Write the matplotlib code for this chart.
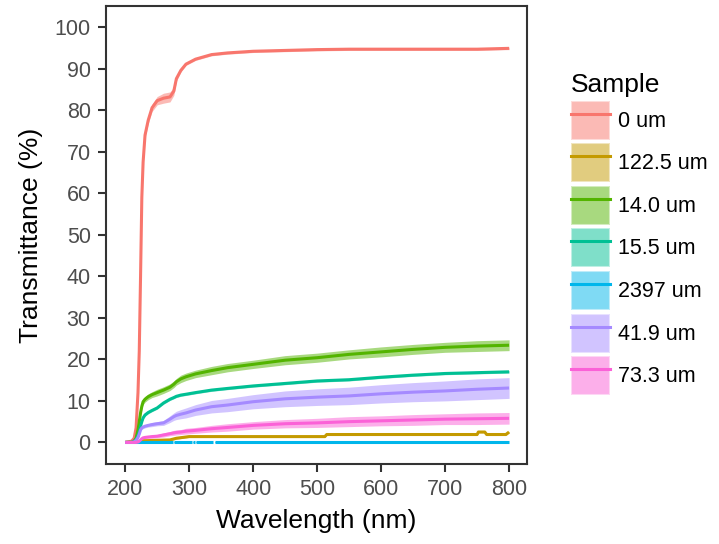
import matplotlib
matplotlib.use("Agg")
import matplotlib.pyplot as plt
import numpy as np
from matplotlib.patches import Patch
from matplotlib.lines import Line2D
from matplotlib.legend_handler import HandlerTuple

plt.rcParams["font.family"] = ["Liberation Sans", "DejaVu Sans"]

# ── data: mean transmittance (%) and spread per sample ───────────────────────
wavelength = [200, 210, 214, 217, 220, 222, 224, 226, 228, 231, 236, 242, 250,
              260, 270, 276, 280, 287, 295, 310, 335, 360, 400, 450, 500, 550,
              600, 650, 700, 750, 800]

samples = ["0 um", "122.5 um", "14.0 um", "15.5 um", "2397 um", "41.9 um", "73.3 um"]

t_0um = [0, 0.3, 1.0, 3.5, 12, 22, 40, 59, 67.5, 74, 77.6, 80.6, 82.3,
         82.9, 83.2, 84.6, 87.6, 89.6, 91.1, 92.3, 93.4, 93.8, 94.2, 94.4, 94.6, 94.7,
         94.7, 94.7, 94.7, 94.7, 94.9]
t_14um = [0, 0, 0.3, 1.0, 3.0, 5.0, 7.1, 8.7, 9.8, 10.4, 11.0, 11.5, 12.0,
          12.6, 13.3, 14.0, 14.6, 15.3, 15.8, 16.5, 17.3, 18.0, 18.8, 19.8, 20.4, 21.2,
          21.8, 22.4, 22.9, 23.2, 23.4]
t_15um = [0, 0, 0.2, 0.7, 1.6, 2.6, 3.9, 5.0, 5.9, 6.6, 7.2, 7.7, 8.3,
          9.5, 10.4, 10.8, 11.1, 11.4, 11.6, 12.0, 12.6, 13.0, 13.6, 14.2, 14.8, 15.1,
          15.7, 16.2, 16.6, 16.8, 17.0]
t_41um = [0, 0, 0.1, 0.5, 1.2, 2.0, 3.0, 3.5, 3.7, 3.9, 4.1, 4.3, 4.5,
          4.7, 5.6, 6.2, 6.5, 6.8, 7.1, 7.8, 8.6, 9.0, 9.8, 10.5, 10.9, 11.2,
          11.7, 12.1, 12.4, 12.8, 13.1]
t_73um = [0, 0, 0, 0, 0.1, 0.3, 0.6, 0.9, 1.1, 1.2, 1.3, 1.4, 1.5,
          1.8, 2.1, 2.3, 2.4, 2.5, 2.7, 2.9, 3.3, 3.6, 4.1, 4.5, 4.7, 5.0,
          5.2, 5.4, 5.6, 5.7, 5.8]

sd_0um = [0, 0.1, 0.2, 0.3, 0.3, 0.3, 0.3, 0.4, 0.6, 0.8, 0.8, 0.9, 1.0,
          1.2, 1.2, 1.0, 0.6, 0.4, 0.3, 0.3, 0.3, 0.3, 0.3, 0.3, 0.3, 0.3,
          0.3, 0.3, 0.3, 0.3, 0.3]
sd_14um = [0, 0, 0.2, 0.3, 0.4, 0.5, 0.6, 0.6, 0.7, 0.7, 0.7, 0.7, 0.8,
           0.8, 0.8, 0.8, 0.8, 0.9, 0.9, 0.9, 1.0, 1.0, 1.0, 1.1, 1.1, 1.1,
           1.2, 1.2, 1.2, 1.3, 1.3]
sd_15um = [0.1] * 8 + [0.3] * 23
sd_41um = [0, 0, 0.1, 0.2, 0.3, 0.3, 0.3, 0.3, 0.4, 0.4, 0.4, 0.5, 0.5,
           0.6, 0.8, 0.9, 1.0, 1.1, 1.2, 1.3, 1.5, 1.6, 1.7, 1.9, 2.0, 2.1,
           2.2, 2.3, 2.4, 2.5, 2.5]
sd_73um = [0, 0, 0, 0.1, 0.1, 0.2, 0.2, 0.3, 0.3, 0.3, 0.3, 0.4, 0.4,
           0.5, 0.5, 0.6, 0.6, 0.6, 0.7, 0.7, 0.8, 0.9, 0.9, 1.0, 1.1, 1.2,
           1.2, 1.3, 1.3, 1.4, 1.4]

# 122.5 um moves in coarse steps
wl_122um = [200, 220, 228, 250, 270, 280, 300, 512, 515, 750, 752, 762, 765, 795, 800]
t_122um = [0, 0.1, 0.4, 0.5, 0.6, 1.0, 1.4, 1.4, 1.9, 1.9, 2.5, 2.5, 1.9, 1.9, 2.5]
sd_122um = [0, 0.1, 0.1, 0.1, 0.2, 0.2, 0.2, 0.2, 0.2, 0.2, 0.2, 0.2, 0.2, 0.2, 0.2]

# 2397 um sits on zero, with a few missing readings
wl_2397um = [200, 228, 275, 276, 277, 304, 305, 306, 309, 310, 311, 338, 339, 340, 800]
t_2397um = [0, 0, 0, np.nan, 0, 0, np.nan, 0, 0, np.nan, 0, 0, np.nan, 0, 0]
sd_2397um = [0.1] * 15

series = [
    (wavelength, t_0um, sd_0um),
    (wl_122um, t_122um, sd_122um),
    (wavelength, t_14um, sd_14um),
    (wavelength, t_15um, sd_15um),
    (wl_2397um, t_2397um, sd_2397um),
    (wavelength, t_41um, sd_41um),
    (wavelength, t_73um, sd_73um),
]

# ggplot default hue palette for 7 levels
colors = ["#F8766D", "#C49A00", "#53B400", "#00C094", "#00B6EB", "#A58AFF", "#FB61D7"]

# ── figure ───────────────────────────────────────────────────────────────────
fig = plt.figure(figsize=(7.19, 5.44), dpi=100)
ax = fig.add_axes([106 / 719, 80 / 544, 421 / 719, 458 / 544])

for (x, m, s), c in zip(series, colors):
    x = np.array(x, dtype=float)
    m = np.array(m, dtype=float)
    s = np.array(s, dtype=float)
    ax.fill_between(x, m - s, m + s, color=c, alpha=0.5, linewidth=0, zorder=1)
for (x, m, _), c in zip(series, colors):
    ax.plot(x, m, color=c, linewidth=2.2, zorder=2, solid_capstyle="butt")

ax.set_xlim(170, 828)
ax.set_ylim(-5.2, 105.1)
ax.set_xticks(range(200, 801, 100))
ax.set_yticks(range(0, 101, 10))

for sp in ax.spines.values():
    sp.set_edgecolor("#333333")
    sp.set_linewidth(1.5)
ax.tick_params(direction="out", length=6, width=1.5, color="#333333",
               labelcolor="#4D4D4D", labelsize=15.5, pad=5)
ax.set_xlabel("Wavelength (nm)", fontsize=19, color="black", labelpad=6)
ax.set_ylabel("Transmittance (%)", fontsize=19, color="black", labelpad=8)

handles = [(Patch(facecolor=c, alpha=0.5, edgecolor="white", linewidth=1.5),
            Line2D([], [], color=c, linewidth=2.2)) for c in colors]
leg = fig.legend(handles, samples, title="Sample", loc="upper left",
                 bbox_to_anchor=(571 / 719, 1 - 73 / 544), frameon=False,
                 fontsize=15.5, title_fontsize=19, alignment="left",
                 handler_map={tuple: HandlerTuple(ndivide=1, pad=0)},
                 handlelength=1.81, handleheight=2.41, labelspacing=0.167,
                 handletextpad=0.37, borderaxespad=0, borderpad=0)

fig.savefig("out.png", dpi=100, facecolor="white")
